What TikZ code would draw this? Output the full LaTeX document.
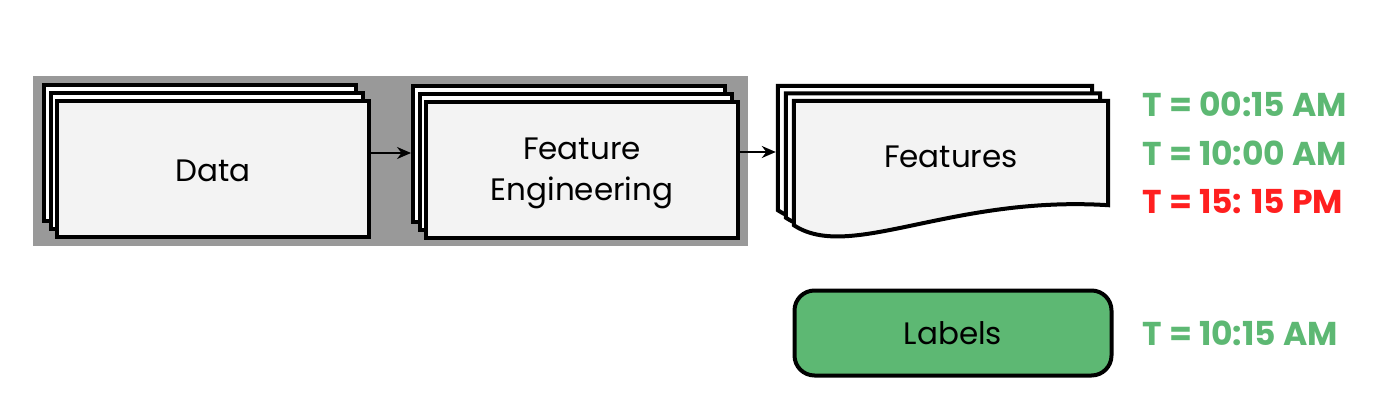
\documentclass[tikz,border=0pt]{standalone}
\usepackage{fontspec}
\setmainfont{Poppins}
\usepackage{xcolor}
\usepackage{tikz}
\usetikzlibrary{shadows,arrows.meta,backgrounds}
\definecolor{sheetfill}{HTML}{F3F3F3}
\definecolor{backdrop}{HTML}{999999}
\definecolor{okgreen}{HTML}{5DB873}
\definecolor{badred}{HTML}{FF1F1F}
\tikzset{sheet/.style={draw,line width=4pt,fill=sheetfill,minimum width=312pt,minimum height=135pt,inner sep=0pt,align=center,
    general shadow={shadow xshift=-13pt,shadow yshift=16pt,draw,line width=4pt,fill=white},
    general shadow={shadow xshift=-6.5pt,shadow yshift=8pt,draw,line width=4pt,fill=white}}}
\tikzset{doc/.style={minimum width=314pt,minimum height=124pt,inner sep=0pt,text depth=12pt}}
\tikzset{lbl/.style={draw,line width=4pt,fill=okgreen,rounded corners=20pt,minimum width=317pt,minimum height=85pt}}
\tikzset{stamp/.style={anchor=base west,font=\fontsize{33}{36}\selectfont\bfseries}}

\begin{document}
\begin{tikzpicture}[x=1pt,y=-1pt,>={Stealth[length=14pt,width=12pt]},font=\fontsize{31}{40}\selectfont]
        \useasboundingbox (0,0) rectangle (1400,417);
        \fill[backdrop] (33,76) rectangle (748,246);

        \node[sheet,text height=26pt] (data) at (213,169) {Data};
        \node[sheet,text height=60pt,text depth=0pt] (fe) at (582,170) {Feature\\Engineering};
        \node[doc] (feats) at (951,163) {Features};
        \node[lbl] (labels) at (953,333) {Labels};

        % feature sheets with wavy bottom
        \begin{scope}[on background layer]
            \foreach \dx/\dy/\fc in {-16/15/white,-8/7.5/white,0/0/sheetfill}
            {
                \begin{scope}[transform canvas={shift={(\dx pt,\dy pt)}}]
                    \draw[line width=4pt,fill=\fc] (feats.north west) -- (feats.north east) -- ([yshift=20pt]feats.south east)
                        .. controls ([shift={(-158pt,30pt)}]feats.south east) and ([shift={(56pt,-37pt)}]feats.south west) .. (feats.south west) -- cycle;
                \end{scope}
            }
        \end{scope}

        \node[stamp,text=okgreen] (t1) at (1139,117) {T = 00:15 AM};
        \node[stamp,text=okgreen] (t2) at (1139,165) {T = 10:00 AM};
        \node[stamp,text=badred] (t3) at (1139,213) {T = 15: 15 PM};
        \node[stamp,text=okgreen] (t4) at (1139,345) {T = 10:15 AM};

        \draw [->,line width=2pt] ([yshift=16pt]data.east) to ([shift={(-13pt,17pt)}]fe.west);
        \draw [->,line width=2pt] ([yshift=18pt]fe.east) to ([shift={(-18pt,11pt)}]feats.west);
    \end{tikzpicture}
\end{document}
